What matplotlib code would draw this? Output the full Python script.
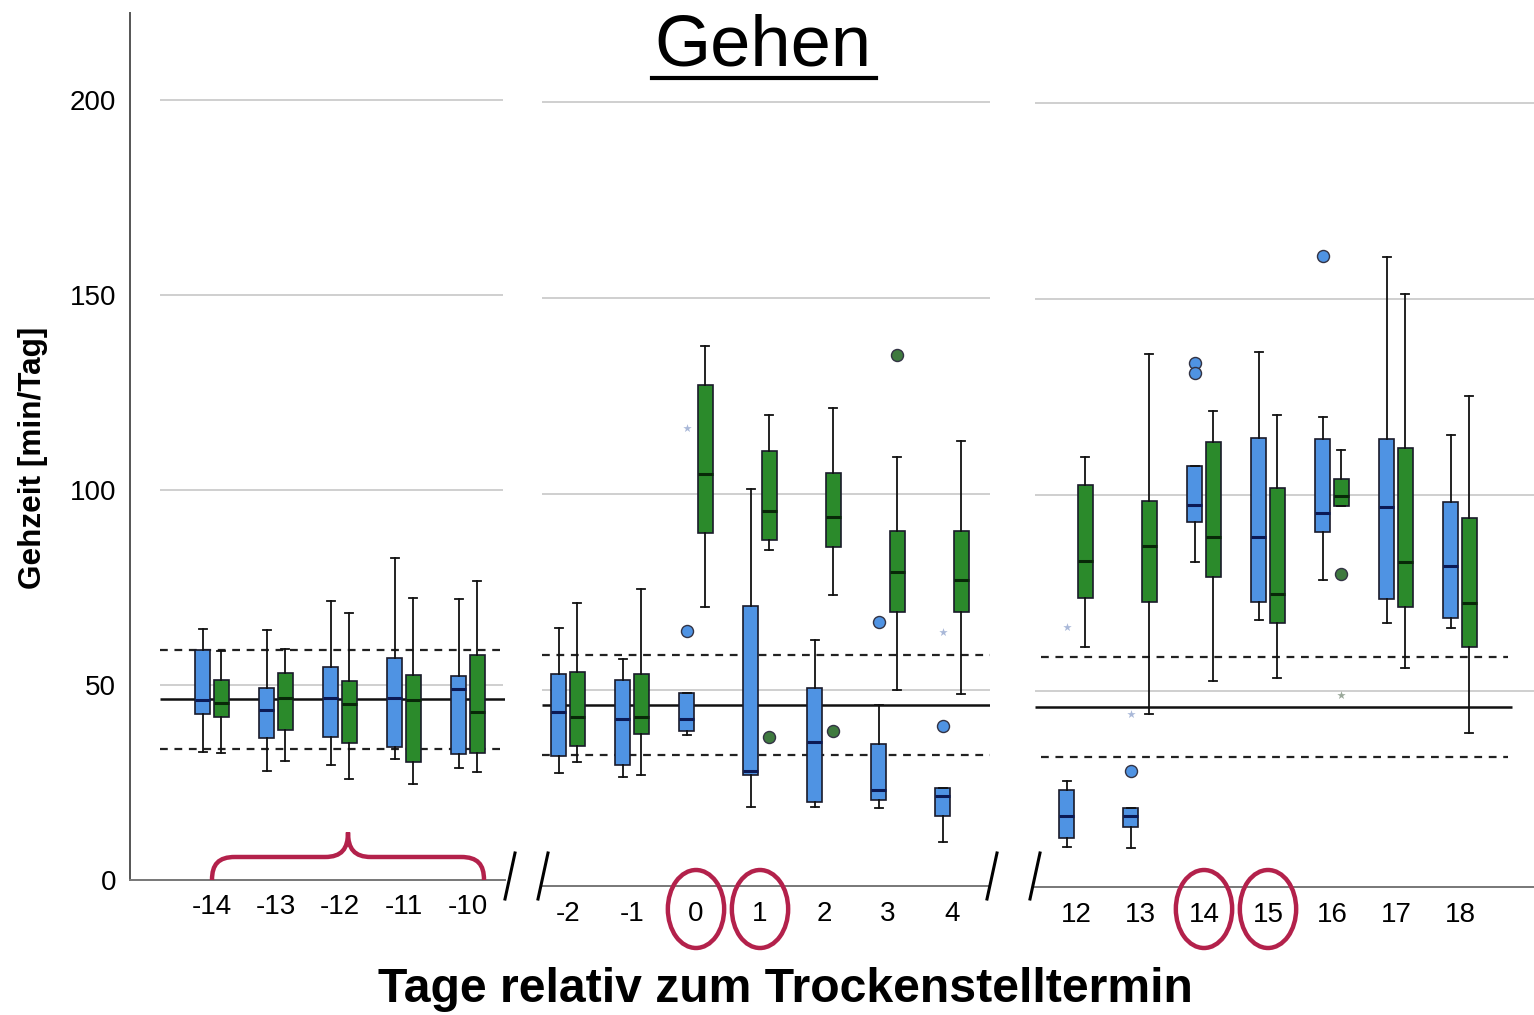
import matplotlib.pyplot as plt
import matplotlib.transforms as mtransforms
from matplotlib.patches import Ellipse, PathPatch
from matplotlib.path import Path
from matplotlib.lines import Line2D

plt.rcParams['font.family'] = ['Liberation Sans', 'DejaVu Sans']

# Boxplot stats per day: [whisker low, q1, median, q3, whisker high]
days_a = [-14, -13, -12, -11, -10]
blue_a = [[32.8, 42.6, 46.2, 59.0, 64.4],
          [28.0, 36.4, 43.6, 49.2, 64.0],
          [29.5, 36.7, 46.7, 54.6, 71.5],
          [31.0, 34.1, 46.7, 57.0, 82.5],
          [28.7, 32.3, 49.0, 52.3, 72.0]]
green_a = [[32.5, 41.8, 45.4, 51.3, 58.7],
           [30.5, 38.5, 46.7, 53.0, 59.2],
           [25.9, 35.1, 45.1, 51.0, 68.5],
           [24.6, 30.3, 46.2, 52.6, 72.3],
           [27.7, 32.6, 43.1, 57.7, 76.7]]

days_b = [-2, -1, 0, 1, 2, 3, 4]
blue_b = [[28.8, 33.2, 44.4, 54.1, 65.8],
          [27.8, 30.9, 42.6, 52.6, 57.9],
          [38.5, 39.5, 42.6, 49.2, 49.2],
          [20.2, 28.3, 29.3, 71.4, 101.3],
          [20.2, 21.4, 36.7, 50.5, 62.8],
          [19.9, 21.9, 24.5, 36.2, 46.2],
          [11.2, 17.9, 23.0, 25.0, 25.0]]
green_b = [[31.6, 35.7, 43.1, 54.6, 72.2],
           [28.3, 38.8, 43.1, 54.1, 75.8],
           [71.2, 90.0, 105.1, 127.8, 137.8],
           [85.7, 88.3, 95.7, 111.0, 120.2],
           [74.2, 86.5, 94.1, 105.4, 121.9],
           [50.0, 69.9, 80.1, 90.6, 109.4],
           [49.0, 69.9, 78.1, 90.6, 113.5]]

days_c = [12, 13, 14, 15, 16, 17, 18]
blue_c = [[10.2, 12.4, 18.0, 24.8, 27.0],
          [10.0, 15.2, 18.0, 20.2, 20.2],
          [82.8, 93.2, 97.5, 107.4, 107.4],
          [68.2, 72.6, 89.3, 114.6, 136.5],
          [78.4, 90.6, 95.3, 114.2, 119.8],
          [67.4, 73.4, 97.0, 114.4, 160.7],
          [66.0, 68.5, 81.9, 98.2, 115.3]]
green_c = [[61.2, 73.8, 83.1, 102.6, 109.8],
           [44.2, 72.6, 86.9, 98.5, 135.9],
           [52.6, 79.1, 89.4, 113.5, 121.5],
           [53.2, 67.3, 74.8, 101.9, 120.5],
           [97.1, 97.1, 99.8, 104.2, 111.6],
           [55.8, 71.4, 82.9, 112.1, 151.3],
           [39.3, 61.2, 72.4, 94.2, 125.3]]

# outliers: (day, group, value)
circles = [(0, 'b', 65.0), (1, 'g', 38.0), (2, 'g', 39.5), (3, 'b', 67.3),
           (3, 'g', 135.5), (4, 'b', 40.8), (13, 'b', 29.6), (14, 'b', 133.8),
           (14, 'b', 131.1), (16, 'b', 160.9), (16, 'g', 79.9)]
stars = [(0, 'b', 116.8), (4, 'b', 64.8), (12, 'b', 66.2), (13, 'b', 44.2),
         (16, 'g', 49.1)]

# reference lines per panel: mean, upper, lower
ref_a = [46.4, 59.0, 33.6]
ref_b = [46.2, 58.9, 33.4]
ref_c = [45.8, 58.6, 33.1]

highlight = [0, 1, 14, 15]

BLUE = '#4f93e3'
GREEN = '#2b8a2b'
RED = '#b3214b'
GRID = '#cfcfcf'

W, H = 1534, 1015
fig = plt.figure(figsize=(W / 100, H / 100), dpi=100)


def px_axes(l, r, b, t):
    return fig.add_axes([l / W, 1 - b / H, (r - l) / W, (b - t) / H])


def stats(rows):
    return [dict(whislo=r[0], q1=r[1], med=r[2], q3=r[3], whishi=r[4], fliers=[])
            for r in rows]


def panel(ax, days, blue, green, ref, grid_x, ref_x, dash_x):
    off = 0.145
    for data, col, sgn, mcol in [(blue, BLUE, -1, '#0c1a55'), (green, GREEN, 1, '#082808')]:
        ax.bxp(stats(data), positions=[d + sgn * off for d in days], widths=0.23,
               patch_artist=True, showfliers=False, capwidths=0.12,
               boxprops=dict(facecolor=col, edgecolor='#1a1a2a', linewidth=1.2),
               medianprops=dict(color=mcol, linewidth=2.2),
               whiskerprops=dict(color='#111111', linewidth=1.3),
               capprops=dict(color='#111111', linewidth=1.3), zorder=3)
    for g in [50, 100, 150, 200]:
        ax.hlines(g, grid_x[0], grid_x[1], color=GRID, lw=1.4, zorder=1)
    ax.hlines(ref[0], ref_x[0], ref_x[1], color='#111111', lw=1.8, zorder=2)
    for v in ref[1:]:
        ax.hlines(v, dash_x[0], dash_x[1], color='#222222', lw=1.6,
                  linestyles=(0, (3.5, 3)), zorder=2)
    for day, grp, v in circles:
        if day in days:
            x = day - off if grp == 'b' else day + off
            ax.scatter(x, v, s=75, color=BLUE if grp == 'b' else '#3f7a3f',
                       edgecolor='#333344', lw=1.0, zorder=4)
    for day, grp, v in stars:
        if day in days:
            x = day - off if grp == 'b' else day + off
            ax.scatter(x, v, s=40, marker='*', color='#a9b8d8' if grp == 'b' else '#9aa89a',
                       lw=0, zorder=4)
    ax.set_xticks(days)
    ax.set_xticklabels([str(d) for d in days], fontsize=20)
    for s in ['top', 'right', 'left']:
        ax.spines[s].set_visible(False)
    ax.spines['bottom'].set_color('#777777')
    ax.spines['bottom'].set_linewidth(1.4)
    ax.tick_params(axis='x', length=0, pad=11)
    ax.set_facecolor('none')


# panel 1
ax1 = px_axes(130, 505, 880, 13)
ax1.set_xlim(-14 - 82 / 64, -14 + 293 / 64)
ax1.set_ylim(0, 867 / 3.9)
panel(ax1, days_a, blue_a, green_a, ref_a,
      (-14 - 52 / 64, -14 + 291 / 64), (-14 - 52 / 64, -9.42), (-14 - 52 / 64, -9.45))
ax1.spines['left'].set_visible(True)
ax1.spines['left'].set_color('#555555')
ax1.spines['left'].set_linewidth(1.4)
ax1.set_yticks([0, 50, 100, 150, 200])
ax1.set_yticklabels(['0', '50', '100', '150', '200'], fontsize=20)
ax1.tick_params(axis='y', length=0, pad=10)
ax1.tick_params(axis='x', pad=10)

# panel 2
ax2 = px_axes(542, 990, 886, 13)
ax2.set_xlim(-2 - 26 / 64, -2 + 422 / 64)
ax2.set_ylim(0, 873 / 3.92)
panel(ax2, days_b, blue_b, green_b, ref_b,
      (-2.41, 4.59), (-2.41, 4.59), (-2.41, 4.59))
ax2.set_yticks([])

# panel 3
ax3 = px_axes(1035, 1534, 887, 13)
ax3.set_xlim(12 - 41 / 64, 12 + 458 / 64)
ax3.set_ylim(0, 874 / 3.92)
panel(ax3, days_c, blue_c, green_c, ref_c,
      (11.36, 19.16), (11.36, 18.82), (11.45, 18.75))
ax3.set_yticks([])

# curly brace over -14 .. -10
x0, x1 = days_a[0], days_a[-1] + 0.25
xm = (x0 + x1) / 2
yb, yt = 5.9, 12.2
r = 0.36
verts = [(x0, 0), (x0, 4), (x0 + 0.1, yb), (x0 + r, yb),
         (xm - r, yb),
         (xm - 0.1, yb), (xm, 8), (xm, yt),
         (xm, 8), (xm + 0.1, yb), (xm + r, yb),
         (x1 - r, yb),
         (x1 - 0.1, yb), (x1, 4), (x1, 0)]
codes = [Path.MOVETO, Path.CURVE4, Path.CURVE4, Path.CURVE4,
         Path.LINETO,
         Path.CURVE4, Path.CURVE4, Path.CURVE4,
         Path.CURVE4, Path.CURVE4, Path.CURVE4,
         Path.LINETO,
         Path.CURVE4, Path.CURVE4, Path.CURVE4]
ax1.add_patch(PathPatch(Path(verts, codes), facecolor='none', edgecolor=RED,
                        lw=3.2, clip_on=False, zorder=5))

# circles around highlighted day labels
for ax in [ax2, ax3]:
    tr = mtransforms.blended_transform_factory(ax.transData, fig.transFigure)
    for d in highlight:
        if d in ax.get_xticks():
            e = Ellipse((d, 1 - 909 / H), 0.88, 78 / H, transform=tr,
                        facecolor='none', edgecolor=RED, lw=3.2, clip_on=False)
            fig.add_artist(e)

# axis break marks
for (xa, xb) in [(505, 515), (538, 548), (987, 997), (1030, 1040)]:
    fig.add_artist(Line2D([xa / W, xb / W], [1 - 899 / H, 1 - 853 / H],
                          color='black', lw=2.2))

fig.text(763 / W, 1 - 47 / H, 'Gehen', fontsize=52, ha='center', va='center')
fig.add_artist(Line2D([652 / W, 876 / W], [1 - 78 / H, 1 - 78 / H], color='black', lw=3))
fig.text(785 / W, 1 - 990 / H, 'Tage relativ zum Trockenstelltermin', fontsize=34.7,
         fontweight='bold', ha='center', va='center')
fig.text(33 / W, 1 - 458 / H, 'Gehzeit [min/Tag]', fontsize=22.7, fontweight='bold',
         rotation=90, ha='center', va='center')

fig.savefig('out.png', dpi=100)
